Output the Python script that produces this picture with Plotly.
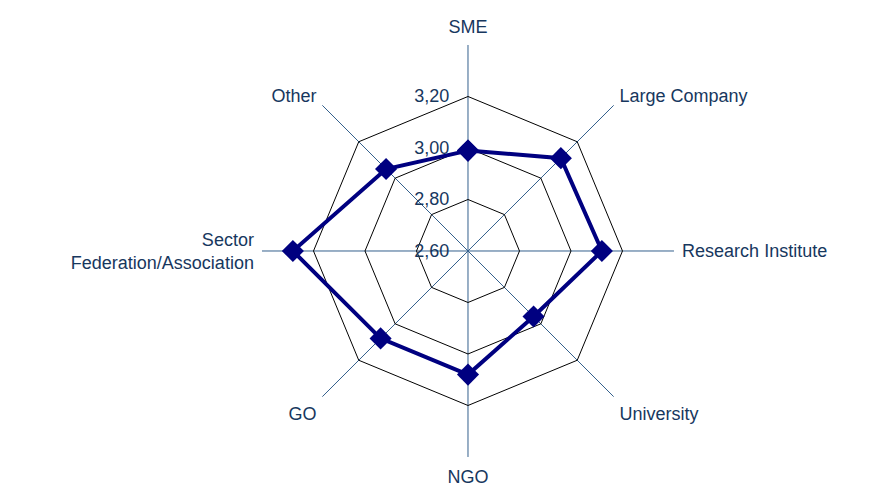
import plotly.graph_objects as go

categories = ["SME", "Large Company", "Research Institute", "University",
              "NGO", "GO", "Sector<br>Federation/Association", "Other"]
values = [2.99, 3.11, 3.12, 2.96, 3.08, 3.08, 3.28, 3.05]
radial_ticks = [2.6, 2.8, 3.0, 3.2]

text_color = "#17375E"
spoke_color = "#34608C"
line_color = "#000080"

fig = go.Figure()
fig.add_trace(go.Scatterpolar(
    r=values + values[:1],
    theta=categories + categories[:1],
    mode="lines+markers",
    line=dict(color=line_color, width=4),
    marker=dict(symbol="diamond", size=17, color=line_color),
    cliponaxis=False,
    showlegend=False,
))

# page body adds an 8px margin, so the figure is sized/positioned to compensate
fig.update_layout(
    width=872, height=481,
    margin=dict(l=0, r=0, t=0, b=0),
    paper_bgcolor="white",
    separators=",.",
    font=dict(family="Liberation Sans, Arial, sans-serif", size=18, color=text_color),
    polar=dict(
        domain=dict(x=[0.29128, 0.76376], y=[0.06653, 0.92308]),
        bgcolor="white",
        gridshape="linear",
        radialaxis=dict(
            range=[2.6, 3.4],
            tickvals=radial_ticks,
            tickformat=".2f",
            angle=90,
            tickangle=90,
            side="counterclockwise",
            showline=False,
            ticks="outside",
            ticklen=12,
            tickcolor="rgba(0,0,0,0)",
            gridcolor="black",
            gridwidth=1,
            tickfont=dict(size=18, color=text_color),
        ),
        angularaxis=dict(
            categoryorder="array",
            categoryarray=categories,
            direction="clockwise",
            rotation=90,
            showline=False,
            gridcolor=spoke_color,
            gridwidth=1,
            ticks="outside",
            ticklen=4,
            tickcolor="rgba(0,0,0,0)",
            tickfont=dict(size=18, color=text_color),
        ),
    ),
)

fig.write_html("out.html")
